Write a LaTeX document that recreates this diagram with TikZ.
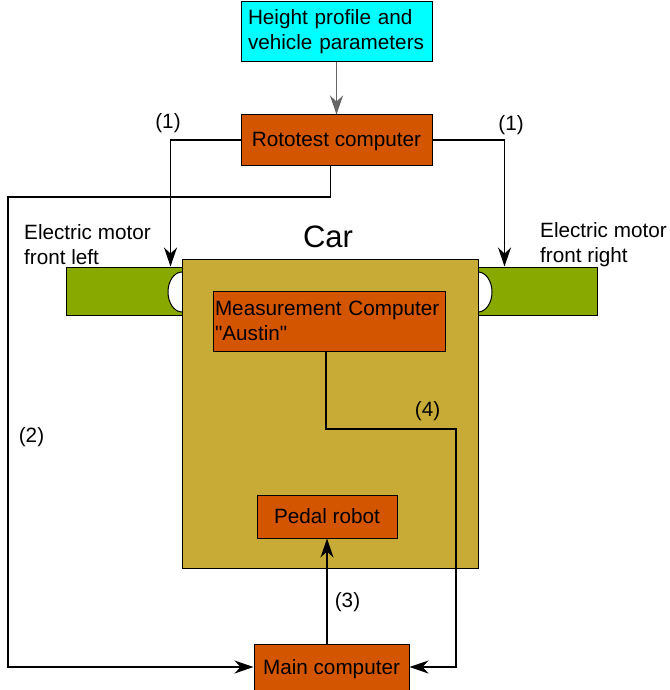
\documentclass[tikz,border=0pt]{standalone}
\usepackage{fontspec}
\setmainfont{Liberation Sans}
\usetikzlibrary{arrows.meta}
\definecolor{comporange}{HTML}{D45500}
\definecolor{carbody}{HTML}{C8AB37}
\definecolor{motorgreen}{HTML}{88AA00}
\definecolor{paramcyan}{HTML}{00FFFF}
\begin{document}
\begin{tikzpicture}[x=1pt, y=-1pt, >={Stealth[length=19pt,width=13pt,inset=6pt]},
    every node/.style={font=\fontsize{20.7}{25}\selectfont, inner sep=0pt},
    box/.style={draw, line width=1pt, fill=comporange},
    conn/.style={->, line width=1.3pt}]
    \useasboundingbox (0,0) rectangle (669,690);

    \node[box, fill=paramcyan, minimum width=191, minimum height=60,
        text width=177, align=left] (hp) at (336.5,32) {Height profile and\\vehicle parameters};
    \node[box, minimum width=191, minimum height=50, text depth=1] (rot) at (336.5,140) {Rototest computer};

    \node[draw, line width=1pt, fill=motorgreen, minimum width=116, minimum height=48] (mleft) at (124,291) {};
    \node[draw, line width=1pt, fill=motorgreen, minimum width=119, minimum height=48] (mright) at (537.5,291) {};
    \draw[fill=white, line width=1pt] (182,272) arc[start angle=270, end angle=90, x radius=14, y radius=20];
    \draw[fill=white, line width=1pt] (478,272) arc[start angle=-90, end angle=90, x radius=14, y radius=20];

    \node[draw, line width=1pt, fill=carbody, minimum width=296, minimum height=309] (car) at (330,413.5) {};
    \node[font=\fontsize{31}{36}\selectfont] (carlabel) at (328,237) {Car};

    \node[box, minimum width=232, minimum height=60, text width=228,
        align=left] (meas) at (329,321) {Measurement Computer\\\textquotedbl Austin\textquotedbl};
    \node[box, minimum width=140, minimum height=43, text depth=1] (pedal) at (327,516.5) {Pedal robot};
    \node[box, minimum width=155, minimum height=46, text depth=1] (main) at (331.5,667) {Main computer};

    \node[align=left, anchor=west] (lmot) at (24,245) {Electric motor\\front left};
    \node[align=left, anchor=west] (rmot) at (540,245) {Electric motor\\front right};

    \draw[conn, gray!80!black, line width=1pt] (hp.south) -- (rot.north);
    \draw[conn] (rot.west) -| ([xshift=-12]mleft.north east);
    \draw[conn] (rot.east) -| ([xshift=27]mright.north west);
    \node (n1l) at (168,123) {(1)};
    \node (n1r) at (511,125) {(1)};

    \coordinate (c2) at (8,197);
    \draw[conn] ([xshift=-6]rot.south) |- (c2) |- (main.west);
    \node (n2) at (31.5,437) {(2)};

    \coordinate (c4) at (456,429);
    \draw[conn] ([xshift=-3]meas.south) |- (c4) |- (main.east);
    \node (n4) at (427.5,411) {(4)};

    \draw[conn] (main.north -| pedal.south) -- (pedal.south);
    \node (n3) at (347.5,602) {(3)};
\end{tikzpicture}
\end{document}
